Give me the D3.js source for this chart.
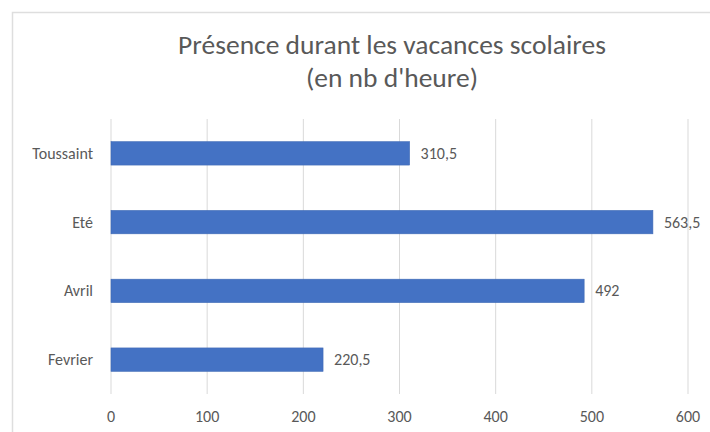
<!DOCTYPE html>
<meta charset="utf-8">
<title>Présence durant les vacances scolaires</title>
<style>

body {
  margin: 0;
  background: #fff;
}

text {
  font-family: Carlito, Lato, "Open Sans", sans-serif;
  fill: #595959;
}

</style>
<body>
  <script src="https://d3js.org/d3.v7.min.js"></script>
  <script>

  const categories = ["Toussaint", "Eté", "Avril", "Fevrier"];
  const hours = [310.5, 563.5, 492, 220.5];
  const valueLabels = ["310,5", "563,5", "492", "220,5"];
  const xTicks = [0, 100, 200, 300, 400, 500, 600];
  const titleLines = ["Présence durant les vacances scolaires", "(en nb d'heure)"];

  const width = 710;
  const height = 432;
  const plot = {left: 111, right: 688, top: 119, bottom: 394};

  const svg = d3.select("body").append("svg")
      .attr("width", width)
      .attr("height", height);

  // chart frame, cut off on the right and bottom like the screenshot
  svg.append("path")
      .attr("d", "M12.5,440V12.5H720")
      .attr("fill", "none")
      .attr("stroke", "#dedede")
      .attr("stroke-width", 1.5);

  const x = d3.scaleLinear()
      .domain([0, 600])
      .range([plot.left, plot.right]);

  const y = d3.scaleBand()
      .domain(categories)
      .range([plot.top, plot.bottom])
      .paddingInner(0.66)
      .paddingOuter(0.33);

  svg.append("g")
    .selectAll("line")
    .data(xTicks)
    .join("line")
      .attr("x1", d => x(d))
      .attr("x2", d => x(d))
      .attr("y1", plot.top)
      .attr("y2", plot.bottom)
      .attr("stroke", "#d9d9d9")
      .attr("stroke-width", 1);

  svg.append("g")
    .selectAll("text")
    .data(xTicks)
    .join("text")
      .attr("x", d => x(d))
      .attr("y", 416)
      .attr("dy", "0.35em")
      .attr("text-anchor", "middle")
      .style("font-size", "16px")
      .text(d => d);

  svg.append("g")
    .selectAll("rect")
    .data(hours)
    .join("rect")
      .attr("x", x(0))
      .attr("y", (d, i) => y(categories[i]))
      .attr("width", d => x(d) - x(0))
      .attr("height", y.bandwidth())
      .attr("fill", "#4472c4")
      .attr("stroke", "#3f69b5")
      .attr("stroke-width", 0.6);

  svg.append("g")
    .selectAll("text")
    .data(hours)
    .join("text")
      .attr("x", d => x(d) + 11)
      .attr("y", (d, i) => y(categories[i]) + y.bandwidth() / 2)
      .attr("dy", "0.35em")
      .style("font-size", "16px")
      .text((d, i) => valueLabels[i]);

  svg.append("g")
    .selectAll("text")
    .data(categories)
    .join("text")
      .attr("x", 93)
      .attr("y", d => y(d) + y.bandwidth() / 2)
      .attr("dy", "0.35em")
      .attr("text-anchor", "end")
      .style("font-size", "16px")
      .text(d => d);

  svg.append("g")
    .selectAll("text")
    .data(titleLines)
    .join("text")
      .attr("x", 392)
      .attr("y", (d, i) => 54 + i * 33)
      .attr("text-anchor", "middle")
      .style("font-size", "27.5px")
      .text(d => d);

  </script>
</body>
